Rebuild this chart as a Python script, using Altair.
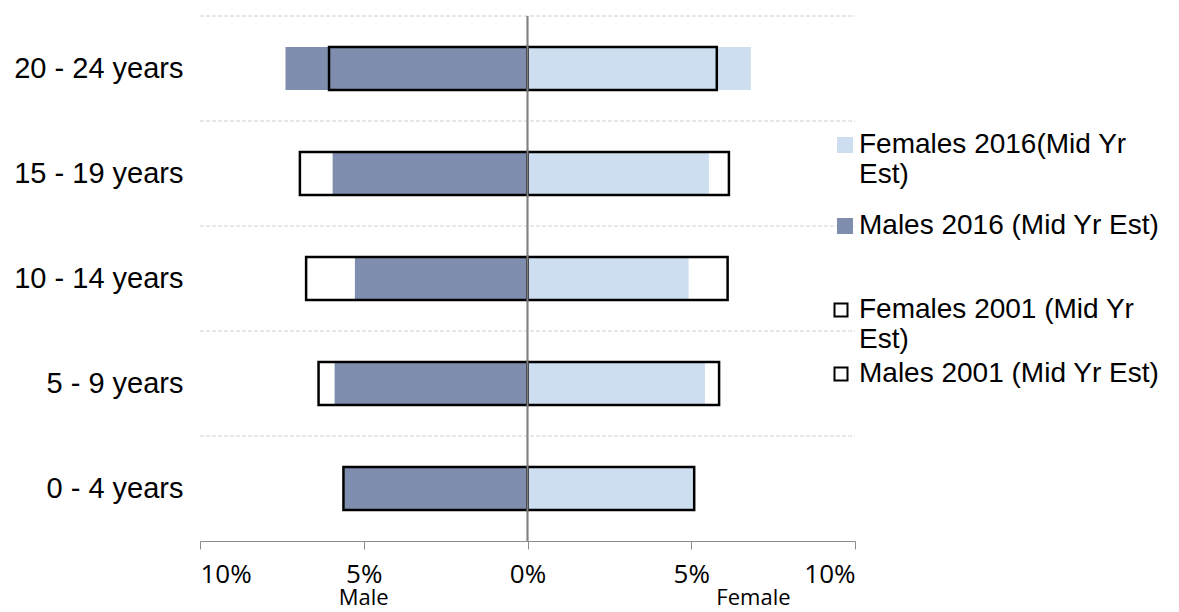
import altair as alt
import pandas as pd

# Age bands, top to bottom
age_groups = ["20 - 24 years", "15 - 19 years", "10 - 14 years", "5 - 9 years", "0 - 4 years"]

# Share of total population (%), same order as age_groups
females_2016 = [6.82, 5.54, 4.92, 5.42, 5.09]
males_2016 = [7.39, 5.95, 5.27, 5.89, 5.60]
females_2001 = [5.78, 6.15, 6.11, 5.85, 5.09]
males_2001 = [6.06, 6.95, 6.76, 6.38, 5.62]

series_2016 = ["Females 2016(Mid Yr Est)", "Males 2016 (Mid Yr Est)"]
series_2001 = ["Females 2001 (Mid Yr Est)", "Males 2001 (Mid Yr Est)"]
fill_colors = ["#CCDEF0", "#7F8EAE"]

x_ticks = [-10, -5, 0, 5, 10]
side_labels = ["Male", "Female"]
side_label_pos = [-5, 6.9]

# Long tables: males are plotted to the left of zero
rows16, rows01 = [], []
for i, age in enumerate(age_groups):
    rows16.append({"age": age, "est2016": series_2016[0], "value": females_2016[i]})
    rows16.append({"age": age, "est2016": series_2016[1], "value": -males_2016[i]})
    rows01.append({"age": age, "est2001": series_2001[0], "value": females_2001[i]})
    rows01.append({"age": age, "est2001": series_2001[1], "value": -males_2001[i]})
df16 = pd.DataFrame(rows16)
df01 = pd.DataFrame(rows01)
df_age = pd.DataFrame({"age": age_groups})
df_side = pd.DataFrame({"label": side_labels, "pos": side_label_pos})

y_scale = alt.Scale(domain=age_groups, paddingInner=0, paddingOuter=0)
y_axis = alt.Axis(
    title=None, domain=False, ticks=False, grid=False,
    labelFont="Liberation Sans", labelFontSize=29, labelColor="#000000",
    labelPadding=17,
)
x_scale = alt.Scale(domain=[-10, 10], nice=False, zero=False)
x_axis = alt.Axis(
    title=None, values=x_ticks, grid=False,
    labelExpr="abs(datum.value) + '%'",
    domainColor="#8C8C8C", domainWidth=1.2, tickColor="#8C8C8C", tickSize=8,
    labelFont="Open Sans", labelFontSize=26, labelColor="#000000", labelPadding=12,
)

# Long legend entries wrap onto a second line at their last space
wrap_expr = (
    "length(datum.label) > 23 ? "
    "[substring(datum.label, 0, lastindexof(datum.label, ' ')), "
    "substring(datum.label, lastindexof(datum.label, ' ') + 1)] : datum.label"
)

# Dashed separators between age bands
grid = alt.Chart(df_age).mark_rule(color="#D0D0D0", strokeDash=[4, 2], strokeWidth=1).encode(
    y=alt.Y("age:N", scale=y_scale, axis=y_axis, bandPosition=0),
    x=alt.datum(-10, scale=x_scale, axis=x_axis),
    x2=alt.datum(10),
)

bars16 = alt.Chart(df16).mark_bar(height={"band": 0.41}).encode(
    y=alt.Y("age:N", scale=y_scale, axis=y_axis),
    x=alt.X("value:Q", scale=x_scale, axis=x_axis, stack=None),
    color=alt.Color(
        "est2016:N",
        scale=alt.Scale(domain=series_2016, range=fill_colors),
        legend=alt.Legend(
            title=None, orient="none", legendX=631, legendY=115, padding=0,
            symbolType="square", symbolSize=256, symbolStrokeWidth=0,
            labelFont="Liberation Sans", labelFontSize=28, labelColor="#000000",
            labelOffset=0, labelLimit=400, rowPadding=23, labelExpr=wrap_expr,
        ),
    ),
)

bars01 = alt.Chart(df01).mark_bar(
    height={"band": 0.41}, fill="transparent", strokeWidth=2.5
).encode(
    y=alt.Y("age:N", scale=y_scale, axis=y_axis),
    x=alt.X("value:Q", scale=x_scale, axis=x_axis, stack=None),
    stroke=alt.Stroke(
        "est2001:N",
        scale=alt.Scale(domain=series_2001, range=["#000000", "#000000"]),
        legend=alt.Legend(
            title=None, orient="none", legendX=627, legendY=280, padding=0,
            symbolType="square", symbolSize=169, symbolStrokeWidth=2,
            symbolFillColor="#FFFFFF",
            labelFont="Liberation Sans", labelFontSize=28, labelColor="#000000",
            labelOffset=4, labelLimit=400, rowPadding=6, labelExpr=wrap_expr,
        ),
    ),
)

zero_line = alt.Chart(df_age).mark_rule(color="#808080", strokeWidth=1.3).encode(
    x=alt.datum(0, scale=x_scale),
)

sides = alt.Chart(df_side).mark_text(
    font="Open Sans", fontSize=22, color="#000000", baseline="middle"
).encode(
    x=alt.X("pos:Q", scale=x_scale),
    y=alt.value(582),
    text="label:N",
)

chart = (
    alt.layer(grid, bars16, bars01, zero_line, sides)
    .properties(
        width=655, height=525,
        autosize="none",
        padding={"left": 200, "top": 16, "right": 324, "bottom": 71},
        background="#FFFFFF",
    )
    .configure_view(strokeWidth=0)
)

chart.save("out.html", embed_options={"renderer": "svg", "actions": False})
